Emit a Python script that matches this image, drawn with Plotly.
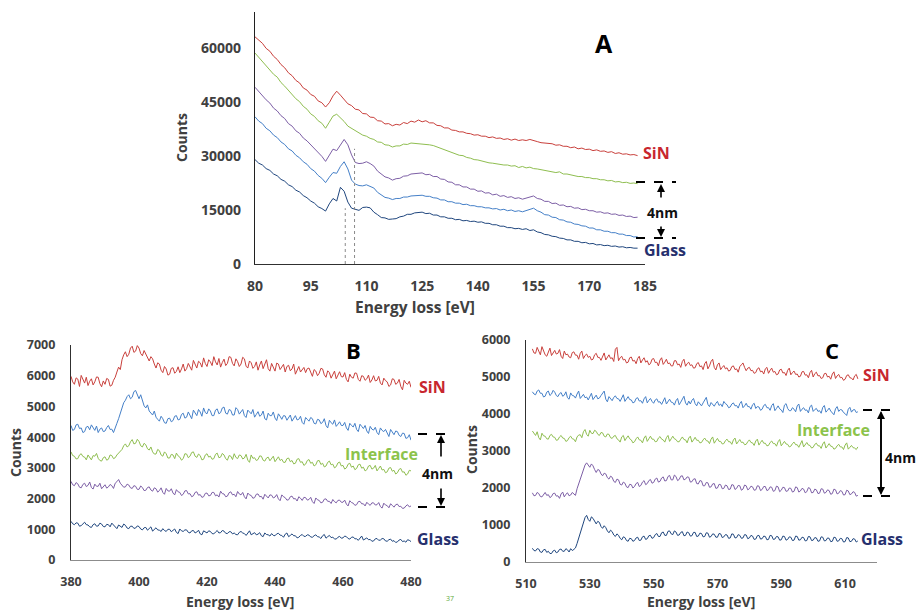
import plotly.graph_objects as go

# ---------------- data ----------------
# Panel A : Si L-edge region (80-183 eV, 1 eV channels)
energy_A = list(range(80, 184))
sin_A = [63100, 62200, 61300, 59900, 59100, 57700, 56800, 55400, 54500, 53100,
         52300, 51000, 50300, 48900, 48300, 47100, 46600, 45300, 44800, 43600,
         44800, 46700, 48000, 46900, 45800, 44500, 44000, 43000, 42800, 41800,
         41700, 40800, 40700, 39800, 39700, 38900, 39000, 38400, 38800, 38600,
         39300, 39000, 39700, 39400, 40000, 39500, 39800, 39200, 39200, 38500,
         38400, 37800, 37800, 37200, 37100, 36700, 36700, 36300, 36200, 35800,
         35900, 35500, 35500, 35100, 35300, 34900, 35000, 34600, 34800, 34400,
         34700, 34300, 34500, 34300, 34600, 34200, 34000, 33700, 33600, 33300,
         33400, 33000, 33100, 32700, 32700, 32300, 32500, 32000, 32200, 31800,
         31900, 31500, 31700, 31300, 31400, 31000, 31200, 30700, 30900, 30500,
         30600, 30300, 30400, 30100]
green_A = [58600, 57400, 56400, 55000, 54100, 52700, 51900, 50400, 49400, 48200,
           47200, 45900, 45100, 43800, 43000, 41700, 41000, 39800, 39100, 37700,
           39400, 41100, 41600, 40600, 39600, 38300, 37700, 36900, 36500, 35800,
           35500, 34900, 34600, 33900, 33800, 33100, 33000, 32500, 32800, 32800,
           33300, 33200, 33600, 33500, 33600, 33500, 33400, 33100, 32900, 32500,
           32200, 31700, 31400, 30900, 30700, 30200, 30100, 29600, 29400, 29000,
           28900, 28600, 28400, 28100, 28000, 27800, 27700, 27500, 27500, 27200,
           27300, 26800, 27100, 26700, 26900, 26500, 26400, 26200, 26000, 25800,
           25700, 25400, 25600, 25000, 25000, 24700, 24600, 24300, 24300, 24000,
           24000, 23700, 23700, 23400, 23400, 23100, 23200, 22800, 22900, 22600,
           22700, 22400, 22500, 22300]
purple_A = [49100, 47900, 47000, 45600, 44700, 43300, 42500, 41200, 40400, 39000,
            38300, 37000, 36300, 35000, 34200, 33100, 32200, 30900, 29900, 28500,
            30300, 31900, 31500, 32900, 34600, 33100, 30300, 28200, 27900, 28000,
            28400, 27900, 27200, 25800, 25100, 24200, 23900, 23300, 23700, 23800,
            24400, 24500, 25000, 25100, 25200, 25300, 24800, 24900, 24300, 24300,
            23600, 23500, 22800, 22700, 22000, 22000, 21400, 21400, 20800, 20800,
            20200, 20300, 19700, 19800, 19200, 19400, 18800, 19000, 18500, 18700,
            18200, 18400, 18000, 18300, 18500, 18900, 18200, 18000, 17400, 17400,
            16800, 16900, 16300, 16400, 15900, 16000, 15500, 15600, 15100, 15200,
            14800, 14800, 14400, 14500, 14100, 14200, 13800, 13900, 13500, 13600,
            13200, 13300, 12900, 13000]
blue_A = [40900, 39700, 39000, 37700, 37000, 35800, 35100, 33900, 33200, 32000,
          31400, 30200, 29500, 28400, 27700, 26500, 25800, 24600, 23800, 22600,
          24100, 25400, 25200, 27100, 28400, 26400, 23300, 22200, 21800, 21700,
          22000, 21600, 21100, 19900, 19300, 18500, 18300, 17900, 18200, 18200,
          18600, 18600, 18900, 18900, 19000, 19100, 18800, 18800, 18400, 18300,
          17800, 17800, 17300, 17300, 16900, 16900, 16500, 16600, 16200, 16200,
          15900, 15900, 15600, 15600, 15300, 15400, 15000, 15200, 14800, 15000,
          14600, 14800, 14500, 14800, 15100, 15500, 14800, 14400, 13700, 13600,
          13000, 12900, 12300, 12200, 11700, 11600, 11100, 11000, 10600, 10500,
          10000, 10000, 9500, 9500, 9100, 9100, 8700, 8700, 8300, 8300,
          7900, 7900, 7500, 7600]
glass_A = [29000, 28000, 27500, 26500, 26000, 25000, 24500, 23500, 23000, 22000,
           21500, 20500, 20000, 19000, 18400, 17500, 16900, 15900, 15400, 14700,
           16700, 18200, 17500, 21300, 20200, 17200, 15500, 15200, 14900, 15700,
           15800, 15600, 14400, 13700, 12900, 12800, 12400, 12500, 12600, 13100,
           13300, 13800, 13800, 14200, 14200, 14400, 14000, 14100, 13600, 13600,
           13100, 13100, 12700, 12700, 12300, 12400, 12000, 12100, 11800, 11900,
           11600, 11700, 11300, 11300, 10900, 10900, 10500, 10500, 10100, 10100,
           9800, 9900, 9600, 9800, 9300, 9500, 8900, 8700, 8200, 8100,
           7700, 7600, 7200, 7100, 6700, 6700, 6300, 6300, 5900, 6000,
           5600, 5700, 5300, 5400, 5100, 5200, 4900, 5000, 4700, 4800,
           4500, 4600, 4400, 4400]
guide_x_A = [104.3, 106.8]
guide_top_A = [15500, 32000]

# Panel B : N K-edge region (380-480 eV, 0.5 eV channels)
energy_B = [380 + 0.5 * i for i in range(201)]
sin_B = [5980, 5800, 5720, 5930, 5890, 5650, 6010, 5870, 5760, 5950, 5680, 5820, 5900, 5700, 5800, 5960, 5950, 5740, 5640, 5830,
         5720, 5910, 5880, 5660, 5690, 5850, 5950, 6120, 6280, 6200, 6520, 6680, 6780, 6620, 6700, 6900, 6960, 6760, 6800, 6980,
         6900, 6720, 6650, 6820, 6700, 6560, 6480, 6620, 6550, 6380, 6250, 6420, 6380, 6180, 6100, 6300, 6220, 6020, 6050, 6240,
         6260, 6080, 6140, 6290, 6100, 6220, 6380, 6150, 6230, 6400, 6300, 6180, 6500, 6380, 6250, 6470, 6420, 6280, 6580, 6400,
         6300, 6520, 6450, 6330, 6620, 6450, 6350, 6560, 6280, 6430, 6540, 6330, 6400, 6620, 6600, 6400, 6320, 6550, 6460, 6300,
         6380, 6600, 6550, 6310, 6250, 6480, 6420, 6240, 6300, 6450, 6180, 6350, 6480, 6230, 6350, 6520, 6230, 6150, 6400, 6290,
         6150, 6410, 6380, 6200, 6280, 6370, 6120, 6300, 6340, 6160, 6220, 6380, 6050, 6200, 6300, 6120, 6180, 6270, 6100, 6230,
         6250, 6080, 5980, 6200, 6150, 6000, 6080, 6240, 6220, 6030, 5950, 6160, 6100, 5920, 6020, 6150, 5900, 6050, 6130, 5970,
         5960, 6100, 5880, 5800, 6050, 5950, 5920, 6090, 6080, 5880, 5820, 6000, 5980, 5850, 5900, 6020, 5780, 5860, 6000, 5830,
         5850, 5980, 5760, 5700, 5920, 5840, 5800, 5650, 5700, 5900, 5880, 5720, 5760, 5880, 5650, 5540, 5850, 5760, 5720, 5820,
         5620]
blue_B = [4380, 4220, 4250, 4400, 4420, 4280, 4300, 4150, 4180, 4330, 4350, 4240, 4400, 4300, 4220, 4360, 4150, 4260, 4300, 4180,
          4200, 4310, 4380, 4250, 4260, 4150, 4330, 4450, 4600, 4780, 4980, 5120, 5200, 5320, 5380, 5250, 5300, 5480, 5520, 5350,
          5250, 5380, 5150, 5020, 4950, 5050, 4850, 4780, 4720, 4850, 4650, 4580, 4520, 4680, 4600, 4470, 4450, 4600, 4620, 4500,
          4540, 4680, 4700, 4560, 4580, 4740, 4780, 4620, 4650, 4820, 4720, 4600, 4880, 4780, 4700, 4900, 4820, 4680, 4950, 4800,
          4760, 4920, 4850, 4700, 4700, 4880, 4920, 4760, 4800, 4950, 4980, 4780, 4750, 4900, 4870, 4720, 4720, 4960, 4900, 4750,
          4820, 4900, 4700, 4640, 4880, 4800, 4760, 4900, 4650, 4740, 4830, 4680, 4720, 4850, 4600, 4560, 4780, 4700, 4700, 4820,
          4620, 4540, 4760, 4680, 4580, 4700, 4690, 4550, 4620, 4720, 4520, 4620, 4700, 4560, 4580, 4680, 4480, 4420, 4640, 4580,
          4520, 4640, 4600, 4450, 4430, 4580, 4560, 4440, 4480, 4600, 4380, 4300, 4550, 4470, 4420, 4560, 4350, 4420, 4500, 4380,
          4380, 4480, 4300, 4220, 4450, 4380, 4330, 4450, 4250, 4180, 4420, 4350, 4280, 4380, 4200, 4120, 4350, 4260, 4230, 4320,
          4150, 4080, 4300, 4220, 4180, 4250, 4100, 4020, 4250, 4160, 4080, 4200, 4180, 4060, 4020, 4130, 4120, 3960, 3980, 4080,
          3900]
interface_B = [3520, 3400, 3380, 3290, 3300, 3420, 3460, 3370, 3350, 3260, 3420, 3340, 3260, 3400, 3380, 3470, 3310, 3240, 3220, 3330,
               3360, 3250, 3280, 3420, 3400, 3300, 3330, 3420, 3480, 3560, 3600, 3720, 3780, 3680, 3720, 3850, 3920, 3780, 3800, 3930,
               3860, 3720, 3680, 3800, 3750, 3620, 3580, 3680, 3520, 3450, 3450, 3600, 3560, 3420, 3380, 3520, 3460, 3320, 3320, 3440,
               3420, 3300, 3480, 3390, 3350, 3250, 3300, 3460, 3450, 3330, 3380, 3500, 3520, 3380, 3340, 3450, 3400, 3260, 3280, 3420,
               3460, 3350, 3380, 3280, 3300, 3440, 3480, 3330, 3350, 3470, 3420, 3300, 3250, 3400, 3380, 3270, 3460, 3340, 3300, 3420,
               3400, 3290, 3320, 3440, 3250, 3180, 3420, 3310, 3330, 3240, 3270, 3390, 3380, 3250, 3220, 3320, 3350, 3230, 3290, 3380,
               3200, 3300, 3360, 3240, 3280, 3180, 3180, 3300, 3320, 3200, 3240, 3130, 3150, 3280, 3300, 3180, 3200, 3080, 3120, 3240,
               3270, 3150, 3180, 3060, 3100, 3230, 3240, 3110, 3150, 3030, 3060, 3180, 3220, 3100, 3120, 3000, 3040, 3160, 3190, 3060,
               3080, 2960, 3000, 3120, 3150, 3020, 3060, 2940, 2980, 3100, 3120, 2990, 3020, 2900, 2940, 3060, 3080, 2960, 2990, 3080,
               2900, 2980, 3060, 2930, 2950, 2840, 2870, 2990, 3010, 2890, 2920, 2800, 2840, 2950, 2980, 2860, 2870, 2760, 2800, 2920,
               2900]
purple_B = [2560, 2450, 2420, 2520, 2480, 2370, 2350, 2460, 2500, 2390, 2430, 2540, 2360, 2310, 2470, 2400, 2400, 2500, 2320, 2370,
            2450, 2340, 2380, 2460, 2420, 2330, 2500, 2550, 2620, 2500, 2450, 2370, 2380, 2470, 2440, 2350, 2330, 2420, 2400, 2300,
            2300, 2410, 2360, 2260, 2270, 2360, 2380, 2280, 2240, 2350, 2320, 2210, 2260, 2350, 2200, 2140, 2330, 2250, 2240, 2320,
            2180, 2120, 2290, 2220, 2200, 2100, 2140, 2250, 2260, 2150, 2160, 2060, 2090, 2200, 2220, 2110, 2130, 2040, 2060, 2170,
            2180, 2090, 2100, 2200, 2200, 2090, 2120, 2050, 2240, 2160, 2150, 2060, 2080, 2190, 2220, 2120, 2140, 2060, 2230, 2150,
            2120, 2200, 2060, 1990, 2180, 2120, 2100, 2010, 2030, 2140, 2150, 2060, 2070, 1980, 2140, 2080, 2020, 2120, 2110, 2020,
            2050, 2130, 1990, 1930, 2120, 2060, 2030, 1950, 1960, 2060, 2080, 1990, 2000, 1920, 2060, 2010, 1940, 2040, 2030, 1950,
            1970, 2040, 1900, 1840, 2020, 1960, 1940, 1860, 1880, 1980, 1990, 1910, 1910, 1840, 1970, 1900, 1860, 1940, 1950, 1880,
            1880, 1950, 1820, 1760, 1930, 1870, 1850, 1780, 1800, 1900, 1910, 1830, 1830, 1760, 1880, 1820, 1780, 1860, 1860, 1790,
            1800, 1870, 1740, 1690, 1850, 1790, 1770, 1700, 1830, 1780, 1720, 1800, 1820, 1740, 1750, 1680, 1690, 1760, 1800, 1730,
            1760]
glass_B = [1260, 1180, 1150, 1210, 1200, 1100, 1120, 1190, 1230, 1150, 1140, 1080, 1060, 1150, 1180, 1100, 1110, 1200, 1170, 1090,
           1080, 1160, 1150, 1080, 1200, 1140, 1090, 1020, 1140, 1110, 1060, 1170, 1130, 1040, 1020, 1100, 1100, 1030, 1040, 1110,
           1090, 1010, 980, 1050, 1060, 970, 1010, 1080, 940, 990, 1050, 980, 970, 930, 1020, 960, 930, 1000, 1000, 920,
           960, 1010, 900, 860, 1010, 950, 930, 980, 980, 900, 880, 950, 960, 880, 910, 970, 850, 820, 950, 900,
           880, 950, 930, 860, 850, 910, 960, 880, 890, 960, 940, 870, 860, 920, 920, 850, 880, 830, 820, 900,
           930, 880, 860, 800, 900, 950, 820, 860, 890, 820, 840, 890, 790, 760, 880, 830, 820, 780, 860, 800,
           790, 850, 870, 810, 800, 740, 840, 880, 760, 800, 850, 790, 790, 720, 740, 800, 830, 770, 770, 820,
           810, 750, 740, 790, 820, 760, 750, 700, 790, 830, 710, 760, 800, 730, 740, 690, 680, 740, 770, 710,
           720, 780, 760, 700, 680, 740, 750, 690, 690, 640, 730, 780, 650, 700, 720, 660, 670, 610, 620, 690,
           700, 640, 650, 700, 690, 620, 610, 660, 680, 610, 630, 570, 590, 650, 670, 600, 620, 580, 660, 640,
           600]

# Panel C : O K-edge region (512-614 eV, 0.5 eV channels)
energy_C = [512 + 0.5 * i for i in range(205)]
sin_C = [5760, 5650, 5640, 5800, 5700, 5600, 5820, 5720, 5600, 5560, 5690, 5780, 5580, 5640, 5720, 5620, 5640, 5740, 5560, 5500,
         5700, 5600, 5620, 5540, 5520, 5660, 5680, 5590, 5590, 5480, 5640, 5700, 5500, 5580, 5620, 5530, 5560, 5460, 5480, 5600,
         5640, 5530, 5530, 5450, 5580, 5650, 5460, 5540, 5600, 5500, 5520, 5420, 5750, 5800, 5440, 5520, 5560, 5460, 5480, 5380,
         5400, 5520, 5540, 5430, 5450, 5360, 5500, 5560, 5380, 5460, 5520, 5400, 5440, 5330, 5360, 5480, 5500, 5390, 5400, 5300,
         5460, 5520, 5340, 5400, 5480, 5360, 5380, 5300, 5300, 5440, 5440, 5330, 5350, 5260, 5420, 5480, 5290, 5360, 5400, 5310,
         5330, 5240, 5250, 5360, 5390, 5280, 5300, 5200, 5360, 5420, 5220, 5300, 5420, 5480, 5260, 5190, 5330, 5380, 5200, 5260,
         5310, 5220, 5250, 5160, 5180, 5280, 5300, 5200, 5220, 5130, 5280, 5330, 5380, 5260, 5170, 5240, 5260, 5170, 5180, 5100,
         5120, 5220, 5250, 5140, 5160, 5080, 5220, 5260, 5100, 5180, 5240, 5130, 5150, 5060, 5080, 5190, 5210, 5110, 5120, 5040,
         5180, 5240, 5060, 5120, 5160, 5070, 5080, 5000, 5020, 5140, 5150, 5050, 5060, 4980, 5120, 5180, 5000, 5090, 5130, 5030,
         5040, 4960, 4980, 5090, 5100, 5000, 5020, 4940, 5080, 5140, 4960, 5030, 5070, 4980, 4990, 4910, 4940, 5040, 5060, 4980,
         4970, 4920, 5030, 5070, 4950]
blue_C = [4600, 4540, 4520, 4620, 4650, 4560, 4560, 4460, 4480, 4590, 4620, 4500, 4540, 4640, 4590, 4500, 4470, 4550, 4580, 4480,
          4510, 4600, 4440, 4400, 4570, 4500, 4490, 4430, 4540, 4620, 4420, 4480, 4530, 4440, 4460, 4380, 4500, 4560, 4390, 4460,
          4510, 4410, 4430, 4500, 4580, 4620, 4400, 4330, 4470, 4420, 4360, 4450, 4490, 4420, 4410, 4340, 4450, 4520, 4340, 4400,
          4470, 4390, 4380, 4300, 4320, 4420, 4440, 4350, 4360, 4290, 4410, 4470, 4300, 4370, 4420, 4340, 4290, 4380, 4410, 4320,
          4330, 4260, 4380, 4440, 4270, 4330, 4400, 4320, 4310, 4240, 4360, 4420, 4250, 4320, 4420, 4480, 4300, 4240, 4350, 4270,
          4370, 4420, 4280, 4220, 4330, 4260, 4220, 4300, 4400, 4450, 4260, 4200, 4310, 4250, 4210, 4290, 4340, 4230, 4270, 4200,
          4340, 4280, 4250, 4170, 4190, 4270, 4300, 4220, 4230, 4160, 4280, 4340, 4170, 4220, 4290, 4200, 4200, 4130, 4250, 4290,
          4150, 4200, 4190, 4100, 4130, 4230, 4260, 4170, 4170, 4100, 4230, 4280, 4090, 4150, 4220, 4140, 4110, 4040, 4240, 4280,
          4150, 4090, 4090, 4170, 4130, 4060, 4220, 4270, 4070, 4130, 4170, 4100, 4110, 4030, 4200, 4240, 4070, 4120, 4150, 4070,
          4090, 4020, 4180, 4230, 4050, 4100, 4160, 4080, 4030, 3980, 4140, 4200, 4070, 4120, 4110, 4040, 4010, 3960, 4130, 4180,
          4050, 4110, 4120, 4040, 4060]
interface_C = [3540, 3460, 3420, 3520, 3360, 3300, 3480, 3410, 3400, 3330, 3320, 3420, 3450, 3380, 3370, 3290, 3300, 3380, 3420, 3350,
               3340, 3260, 3280, 3360, 3400, 3330, 3320, 3250, 3380, 3430, 3440, 3360, 3520, 3580, 3450, 3400, 3560, 3480, 3470, 3560,
               3530, 3450, 3420, 3500, 3490, 3400, 3380, 3460, 3450, 3360, 3340, 3400, 3420, 3330, 3300, 3240, 3380, 3420, 3280, 3350,
               3410, 3330, 3300, 3220, 3250, 3330, 3380, 3300, 3290, 3220, 3350, 3410, 3260, 3330, 3400, 3320, 3320, 3250, 3260, 3350,
               3390, 3320, 3300, 3240, 3360, 3420, 3260, 3330, 3400, 3330, 3310, 3250, 3250, 3320, 3380, 3310, 3300, 3220, 3350, 3400,
               3240, 3300, 3370, 3290, 3290, 3220, 3230, 3300, 3350, 3280, 3270, 3200, 3320, 3380, 3210, 3280, 3340, 3260, 3260, 3190,
               3200, 3280, 3320, 3250, 3250, 3180, 3300, 3350, 3190, 3250, 3310, 3230, 3240, 3170, 3180, 3250, 3300, 3230, 3220, 3150,
               3270, 3320, 3160, 3230, 3290, 3210, 3210, 3140, 3150, 3230, 3270, 3200, 3200, 3130, 3250, 3310, 3140, 3200, 3260, 3190,
               3180, 3110, 3130, 3200, 3240, 3170, 3170, 3100, 3220, 3280, 3110, 3170, 3230, 3160, 3150, 3080, 3100, 3180, 3210, 3140,
               3140, 3070, 3190, 3250, 3080, 3140, 3200, 3130, 3120, 3050, 3070, 3140, 3180, 3110, 3110, 3040, 3160, 3220, 3050, 3100,
               3150, 3090, 3080, 3040, 3110]
purple_C = [1870, 1790, 1800, 1880, 1850, 1770, 1760, 1840, 1880, 1800, 1820, 1740, 1770, 1850, 1860, 1780, 1790, 1720, 1840, 1890,
            1760, 1830, 1870, 1790, 1810, 1880, 1850, 1800, 1980, 2100, 2250, 2360, 2480, 2620, 2680, 2600, 2560, 2650, 2600, 2500,
            2420, 2500, 2480, 2380, 2330, 2400, 2380, 2280, 2240, 2320, 2290, 2180, 2150, 2240, 2220, 2100, 2080, 2160, 2130, 2030,
            2010, 2100, 2090, 2000, 2040, 2120, 2150, 2040, 2070, 2160, 2200, 2090, 2120, 2200, 2230, 2130, 2150, 2240, 2270, 2160,
            2180, 2270, 2300, 2190, 2200, 2310, 2340, 2220, 2220, 2350, 2310, 2200, 2230, 2320, 2330, 2220, 2240, 2300, 2290, 2160,
            2170, 2240, 2250, 2120, 2110, 2200, 2190, 2060, 2060, 2150, 2140, 2020, 2030, 2110, 2120, 1990, 2000, 2100, 2090, 1980,
            1990, 2080, 2060, 1960, 1970, 2090, 2080, 1960, 1990, 2070, 2060, 1940, 1970, 2080, 2060, 1950, 1980, 2050, 2030, 1940,
            1950, 2060, 2050, 1930, 1960, 2040, 2040, 1930, 1950, 2030, 2020, 1910, 1930, 2050, 2030, 1900, 1940, 2020, 2010, 1910,
            1920, 2000, 1990, 1890, 1910, 2030, 2010, 1890, 1920, 1990, 1970, 1870, 1900, 2010, 1990, 1870, 1880, 1970, 1950, 1850,
            1860, 1980, 1970, 1860, 1880, 1950, 1930, 1830, 1850, 1970, 1950, 1840, 1860, 1930, 1910, 1810, 1820, 1940, 1920, 1820,
            1840, 1900, 1880, 1780, 1800]
glass_C = [370, 310, 300, 360, 350, 270, 260, 330, 340, 260, 290, 230, 230, 300, 320, 250, 270, 340, 350, 290,
           290, 360, 330, 270, 360, 310, 340, 380, 500, 650, 820, 960, 1080, 1200, 1260, 1150, 1100, 1220, 1180, 1080,
           1030, 1100, 1070, 960, 910, 980, 930, 840, 790, 860, 820, 730, 690, 760, 720, 640, 600, 680, 660, 580,
           560, 640, 630, 560, 580, 650, 670, 580, 590, 680, 700, 610, 630, 710, 720, 640, 660, 740, 770, 690,
           690, 790, 810, 720, 720, 830, 840, 760, 740, 840, 810, 720, 730, 800, 820, 710, 720, 810, 790, 700,
           710, 800, 800, 690, 700, 780, 770, 680, 690, 790, 780, 670, 690, 760, 750, 670, 670, 770, 760, 660,
           680, 740, 730, 640, 650, 760, 750, 650, 660, 740, 720, 640, 650, 740, 730, 630, 650, 720, 700, 610,
           620, 710, 720, 620, 630, 700, 690, 600, 610, 720, 710, 610, 620, 690, 680, 590, 600, 700, 690, 590,
           610, 680, 670, 580, 590, 700, 690, 590, 600, 670, 660, 570, 580, 690, 680, 580, 590, 660, 650, 560,
           570, 680, 670, 570, 580, 650, 640, 550, 560, 670, 660, 560, 570, 640, 630, 540, 550, 660, 650, 550,
           560, 630, 620, 540, 570]

ticks_A_x = [80, 95, 110, 125, 140, 155, 170, 185]
ticks_A_y = [0, 15000, 30000, 45000, 60000]
ticks_B_x = [380, 400, 420, 440, 460, 480]
ticks_B_y = [0, 1000, 2000, 3000, 4000, 5000, 6000, 7000]
ticks_C_x = [510, 530, 550, 570, 590, 610]
ticks_C_y = [0, 1000, 2000, 3000, 4000, 5000, 6000]

# ---------------- style ----------------
W, H = 917, 610
RED, GREEN, PURPLE, BLUE, NAVY = "#C9403C", "#8FBE50", "#7D5FA6", "#4580C8", "#1F467E"
FONT = "Open Sans"
TICKC = "#404040"


def px(x):
    return x / W


def py(y):
    return 1 - y / H


fig = go.Figure()


def add(x, y, color, xa, ya, width=1.0):
    fig.add_trace(go.Scatter(x=x, y=y, mode="lines", line=dict(color=color, width=width),
                             xaxis=xa, yaxis=ya, showlegend=False, hoverinfo="skip"))


for y, c in [(glass_A, NAVY), (blue_A, BLUE), (purple_A, PURPLE), (green_A, GREEN), (sin_A, RED)]:
    add(energy_A, y, c, "x", "y", 1.0)
for y, c in [(glass_B, NAVY), (purple_B, PURPLE), (interface_B, GREEN), (blue_B, BLUE), (sin_B, RED)]:
    add(energy_B, y, c, "x2", "y2", 1.0)
for y, c in [(glass_C, NAVY), (purple_C, PURPLE), (interface_C, GREEN), (blue_C, BLUE), (sin_C, RED)]:
    add(energy_C, y, c, "x3", "y3", 1.0)

# guide lines in A
for gx, gt in zip(guide_x_A, guide_top_A):
    fig.add_trace(go.Scatter(x=[gx, gx], y=[0, gt], mode="lines",
                             line=dict(color="#8A8A8A", width=1, dash="dot"),
                             xaxis="x", yaxis="y", showlegend=False, hoverinfo="skip"))


def ax(domain, rng, ticks, anchor, fsize, lc, standoff):
    return dict(domain=domain, range=rng, tickvals=ticks, anchor=anchor, showgrid=False,
                zeroline=False, showline=True, linecolor=lc, linewidth=1.3, ticks="",
                tickformat="d", automargin=False,
                tickfont=dict(family=FONT, size=fsize, color=TICKC, weight="bold"),
                ticklabelstandoff=standoff, fixedrange=True)


fig.update_layout(
    template="none",
    width=W, height=H, margin=dict(l=0, r=0, t=0, b=0, pad=0),
    paper_bgcolor="white", plot_bgcolor="white",
    xaxis=ax([px(255), px(645)], [80, 185], ticks_A_x, "y", 14, "#303030", 9),
    yaxis=ax([py(264), py(12)], [0, 70000], ticks_A_y, "x", 14, "#202020", 10),
    xaxis2=ax([px(71), px(411)], [380, 480], ticks_B_x, "y2", 12.5, "#8C8C8C", 10),
    yaxis2=ax([py(560), py(345)], [0, 7000], ticks_B_y, "x2", 12.5, "#303030", 12),
    xaxis3=ax([px(526), px(877)], [510, 620], ticks_C_x, "y3", 12.5, "#8C8C8C", 10),
    yaxis3=ax([py(562), py(340)], [0, 6000], ticks_C_y, "x3", 12.5, "#303030", 12),
)

ann = []


def text(x, y, s, size, color="#262626", angle=0):
    ann.append(dict(x=px(x), y=py(y), xref="paper", yref="paper", text="<b>%s</b>" % s,
                    showarrow=False, textangle=angle, xanchor="center", yanchor="middle",
                    font=dict(family=FONT, size=size, color=color)))


def arrow(x, y_head, y_tail):
    ann.append(dict(x=px(x), y=py(y_head), xref="paper", yref="paper", text="",
                    showarrow=True, arrowhead=2, arrowsize=1, arrowwidth=1.6, arrowcolor="black",
                    ax=0, ay=y_tail - y_head))


# axis titles
text(182, 138, "Counts", 14, TICKC, -90)
text(415, 307, "Energy loss [eV]", 15.5, TICKC)
text(15, 453, "Counts", 14, TICKC, -90)
text(240, 601, "Energy loss [eV]", 14, TICKC)
text(471, 450, "Counts", 14, TICKC, -90)
text(701, 601, "Energy loss [eV]", 14, TICKC)

# panel letters
text(604, 43, "A", 25, "#000000")
text(353, 350, "B", 22, "#000000")
text(832, 350, "C", 22, "#000000")

# panel A labels
text(656, 153, "SiN", 16, "#C8262E")
text(665, 250, "Glass", 16, "#26306E")
text(662, 212, "4nm", 14, "#111111")
# panel B labels
text(432, 387, "SiN", 16, "#C8262E")
text(381, 454, "Interface", 16, "#8CC34B")
text(437, 473, "4nm", 14, "#111111")
text(438, 539, "Glass", 16, "#26306E")
# panel C labels
text(876, 375, "SiN", 16, "#C8262E")
text(833, 430, "Interface", 16, "#8CC34B")
text(900, 457, "4nm", 14, "#111111")
text(882, 539, "Glass", 16, "#26306E")

# page number artifact
ann.append(dict(x=px(450), y=py(605), xref="paper", yref="paper", text="37", showarrow=False,
                font=dict(family=FONT, size=7, color="#5DAA3C")))

# arrows
arrow(661, 184, 199)
arrow(661, 237, 225)
arrow(441, 435, 458)
arrow(441, 506, 487)
arrow(881, 411, 495)
arrow(881, 495, 411)

shapes = []
for (x0, x1, y) in [(636, 676, 182), (636, 676, 238), (418, 453, 434), (418, 453, 507),
                    (863, 895, 410), (863, 895, 496)]:
    shapes.append(dict(type="line", xref="paper", yref="paper", x0=px(x0), x1=px(x1),
                       y0=py(y), y1=py(y), line=dict(color="black", width=1.8, dash="dash")))

fig.update_layout(annotations=ann, shapes=shapes)
fig.write_html("out.html", config={"displayModeBar": False},
               post_script="document.body.style.margin='0';document.body.style.padding='0';"
                           "document.body.style.overflow='hidden';")
